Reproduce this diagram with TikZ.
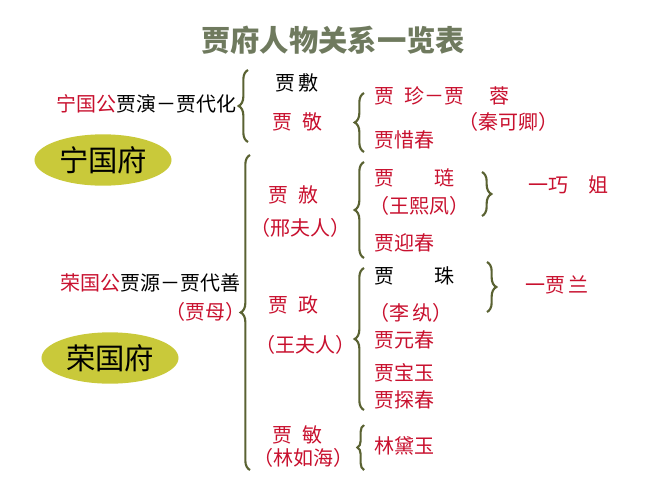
\documentclass[tikz,border=0pt]{standalone}
\usepackage{fontspec}
\setmainfont{Noto Sans CJK SC}
\usetikzlibrary{decorations.pathreplacing,shapes.geometric}
\definecolor{rd}{HTML}{C8102E}
\definecolor{br}{HTML}{5A6232}
\definecolor{tt}{HTML}{6F7A5E}
\definecolor{yl}{HTML}{C9C93A}
\begin{document}
\begin{tikzpicture}[x=0.75pt,y=-0.75pt,
  t/.style={font=\fontsize{15}{17}\selectfont,inner sep=1pt},
  r/.style={t,text=rd},
  k/.style={t,text=black},
  bl/.style={br,line width=1.6pt,decorate,decoration={brace,amplitude=7pt}},
  fu/.style={fill=yl,ellipse,minimum width=100pt,minimum height=38pt,font=\fontsize{22}{24}\selectfont}]
\useasboundingbox (0,0) rectangle (667,500);
\node[font=\fontsize{22}{24}\selectfont\bfseries,text=tt] (title) at (333,40) {贾府人物关系一览表};
\node[t,anchor=east] (ng) at (238,104) {\textcolor{rd}{宁国公}贾演－贾代化};
\coordinate (b1a) at (248,142); \coordinate (b1b) at (248,70);
\draw[bl] (b1a) -- (b1b);
\node[k] (fu1) at (297,83) {贾\,敷};
\node[r] (jing) at (297,122) {贾\enspace 敬};
\coordinate (b2a) at (364,152); \coordinate (b2b) at (364,93);
\draw[bl] (b2a) -- (b2b);
\node[r,anchor=west] (zhen) at (373,96) {贾\enspace 珍－贾\quad\ 蓉};
\node[r] (qin) at (508,122) {（秦可卿）};
\node[r,anchor=west] (xi) at (373,140) {贾惜春};
\node[fu] (ngf) at (103,160) {宁国府};
\coordinate (b3a) at (250,470); \coordinate (b3b) at (250,155);
\draw[bl] (b3a) -- (b3b);
\node[r] (she) at (293,195) {贾\enspace 赦};
\node[r] (xing) at (300,228) {（邢夫人）};
\coordinate (b4a) at (364,258); \coordinate (b4b) at (364,162);
\draw[bl] (b4a) -- (b4b);
\node[r,anchor=west] (lian) at (373,178) {贾\qquad 琏};
\node[r,anchor=west] (wang) at (368,206) {（王熙凤）};
\coordinate (b5a) at (482,172); \coordinate (b5b) at (482,216);
\draw[bl] (b5a) -- (b5b);
\node[r] (qiao) at (568,185) {一巧\quad 姐};
\node[r,anchor=west] (ying) at (373,243) {贾迎春};
\node[t,anchor=east] (rg) at (242,283) {\textcolor{rd}{荣国公}贾源－贾代善};
\node[r] (mu) at (205,312) {（贾母）};
\node[r] (zheng) at (293,305) {贾\enspace 政};
\node[r] (wfr) at (305,345) {（王夫人）};
\coordinate (b6a) at (364,410); \coordinate (b6b) at (364,268);
\draw[bl] (b6a) -- (b6b);
\node[k,anchor=west] (zhu) at (373,276) {贾\qquad 珠};
\node[r,anchor=west] (li) at (368,313) {（李\,纨）};
\coordinate (b7a) at (487,262); \coordinate (b7b) at (487,312);
\draw[bl] (b7a) -- (b7b);
\node[r] (lan) at (557,285) {一贾\,兰};
\node[r,anchor=west] (yuan) at (373,340) {贾元春};
\node[r,anchor=west] (bao) at (373,373) {贾宝玉};
\node[r,anchor=west] (tan) at (373,400) {贾探春};
\node[fu] (rgf) at (110,358) {荣国府};
\node[r] (min) at (297,435) {贾\enspace 敏};
\node[r] (lin) at (303,458) {（林如海）};
\coordinate (b8a) at (364,470); \coordinate (b8b) at (364,425);
\draw[bl,decoration={brace,amplitude=5pt}] (b8a) -- (b8b);
\node[r,anchor=west] (dai) at (373,446) {林黛玉};
\end{tikzpicture}
\end{document}
